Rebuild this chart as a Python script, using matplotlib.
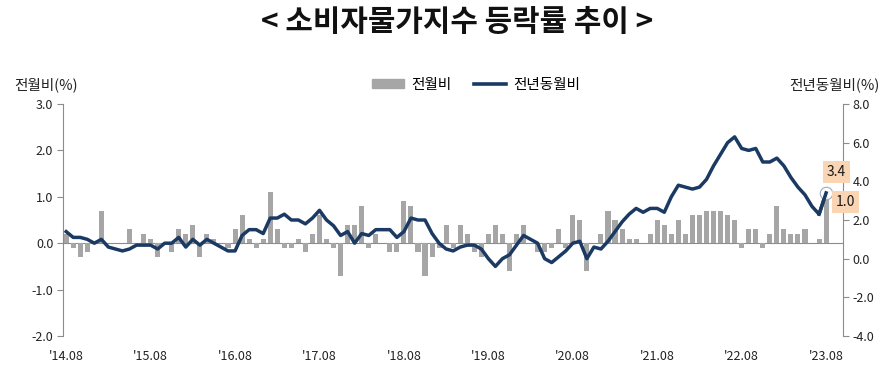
import numpy as np
import matplotlib
matplotlib.use("Agg")
import matplotlib.pyplot as plt
from matplotlib.patches import Patch
from matplotlib.lines import Line2D

plt.rcParams['font.family'] = ['Noto Sans CJK KR', 'DejaVu Sans']

# ---- data ----
tick_labels = ["'14.08", "'15.08", "'16.08", "'17.08", "'18.08",
               "'19.08", "'20.08", "'21.08", "'22.08", "'23.08"]

mom = [  # 전월비 (%), 2014.08 ~ 2023.08
    0.2, -0.1, -0.3, -0.2, 0.0,
    0.7, 0.0, 0.0, 0.0, 0.3, 0.0, 0.2, 0.1, -0.3, 0.0, -0.2, 0.3,
    0.2, 0.4, -0.3, 0.2, 0.1, 0.0, -0.1, 0.3, 0.6, 0.1, -0.1, 0.1,
    1.1, 0.3, -0.1, -0.1, 0.1, -0.2, 0.2, 0.6, 0.1, -0.1, -0.7, 0.4,
    0.4, 0.8, -0.1, 0.2, 0.0, -0.2, -0.2, 0.9, 0.8, -0.2, -0.7, -0.3,
    -0.1, 0.4, -0.1, 0.4, 0.2, -0.2, -0.3, 0.2, 0.4, 0.2, -0.6, 0.2,
    0.4, 0.0, -0.2, -0.2, -0.1, 0.3, -0.1, 0.6, 0.5, -0.6, 0.0, 0.2,
    0.7, 0.5, 0.3, 0.1, 0.1, 0.0, 0.2, 0.5, 0.4, 0.2, 0.5, 0.2,
    0.6, 0.6, 0.7, 0.7, 0.7, 0.6, 0.5, -0.1, 0.3, 0.3, -0.1, 0.2,
    0.8, 0.3, 0.2, 0.2, 0.3, 0.0, 0.1, 1.0,
]

yoy = [  # 전년동월비 (%), 2014.08 ~ 2023.08
    1.4, 1.1, 1.1, 1.0, 0.8,
    1.0, 0.6, 0.5, 0.4, 0.5, 0.7, 0.7, 0.7, 0.5, 0.8, 0.8, 1.1,
    0.6, 1.0, 0.7, 1.0, 0.8, 0.6, 0.4, 0.4, 1.2, 1.5, 1.5, 1.3,
    2.1, 2.1, 2.3, 2.0, 2.0, 1.8, 2.1, 2.5, 2.0, 1.7, 1.2, 1.4,
    0.8, 1.3, 1.2, 1.5, 1.5, 1.5, 1.1, 1.4, 2.1, 2.0, 2.0, 1.3,
    0.8, 0.5, 0.4, 0.6, 0.7, 0.7, 0.5, 0.0, -0.4, 0.0, 0.2, 0.7,
    1.2, 1.0, 0.8, 0.0, -0.2, 0.1, 0.4, 0.8, 0.9, 0.0, 0.6, 0.5,
    0.9, 1.4, 1.9, 2.3, 2.6, 2.4, 2.6, 2.6, 2.4, 3.2, 3.8, 3.7,
    3.6, 3.7, 4.1, 4.8, 5.4, 6.0, 6.3, 5.7, 5.6, 5.7, 5.0, 5.0,
    5.2, 4.8, 4.2, 3.7, 3.3, 2.7, 2.3, 3.4,
]

x = np.arange(len(mom))

BAR = '#A6A6A6'
LINE = '#1B3A63'
AXC = '#8C8C8C'

fig = plt.figure(figsize=(8.89, 3.82), dpi=100)
ax = fig.add_axes([63/889, 1-336/382, (843-63)/889, (336-104)/382])
ax2 = ax.twinx()

ax.bar(x, mom, width=0.72, color=BAR, zorder=2)
ax.axhline(0, color=AXC, lw=0.8, zorder=1)
ax.set_ylim(-2, 3)
ax.set_yticks(np.arange(-2, 3.01, 1))
ax.set_yticklabels([f"{v:.1f}" for v in np.arange(-2, 3.01, 1)])
ax.set_xlim(-0.45, 110.4)
ax.set_xticks(x[::12])
ax.set_xticklabels(tick_labels)

ax2.plot(x, yoy, color=LINE, lw=2.5, solid_joinstyle='round', zorder=3)
ax2.set_ylim(-4, 8)
ax2.set_yticks(np.arange(-4, 8.01, 2))
ax2.set_yticklabels([f"{v:.1f}" for v in np.arange(-4, 8.01, 2)])

for a in (ax, ax2):
    for s in ('top', 'bottom'):
        a.spines[s].set_visible(False)
    a.spines['left'].set_color(AXC)
    a.spines['right'].set_color(AXC)
    a.spines['left'].set_linewidth(0.8)
    a.spines['right'].set_linewidth(0.8)
    a.tick_params(axis='y', colors='#222222', labelsize=9, length=4,
                  width=0.8, color=AXC, pad=3)
ax.tick_params(axis='x', length=0, labelsize=9, pad=10, colors='#222222')
ax2.spines['left'].set_visible(False)
ax.spines['right'].set_visible(False)

# last point marker and labels
ax2.plot([x[-1]], [yoy[-1]], marker='o', ms=9, mfc='white', mec='#8FA3BF',
         mew=0.8, zorder=4, alpha=0.9)
ax2.plot(x[-2:], yoy[-2:], color=LINE, lw=2.5, zorder=5)
box = dict(boxstyle='square,pad=0.3', fc='#F9D5B4', ec='none')
ax2.annotate(f"{yoy[-1]:.1f}", (x[-1], yoy[-1]), xytext=(7.5, 15),
             textcoords='offset points', ha='center', va='center',
             fontsize=10, color='#1A1A1A', bbox=box, zorder=6,
             annotation_clip=False)
ax2.annotate(f"{mom[-1]:.1f}", (x[-1], yoy[-1]), xytext=(14, -6.5),
             textcoords='offset points', ha='center', va='center',
             fontsize=10, color='#1A1A1A', bbox=box, zorder=6,
             annotation_clip=False)

# texts
fig.text(457/889, 1-22/382, "< 소비자물가지수 등락률 추이 >", ha='center',
         va='center', fontsize=21.5, fontweight='bold', color='#111111')
fig.text(14/889, 1-85/382, "전월비(%)", ha='left', va='center',
         fontsize=10.5, color='#222222')
fig.text(880/889, 1-85/382, "전년동월비(%)", ha='right', va='center',
         fontsize=10.5, color='#222222')

handles = [Patch(color=BAR), Line2D([], [], color=LINE, lw=2.6)]
fig.legend(handles, ["전월비", "전년동월비"], loc='center',
           bbox_to_anchor=(476/889, 1-85/382), ncol=2, frameon=False,
           fontsize=10.5, handlelength=2.2, handleheight=0.6,
           columnspacing=1.5, handletextpad=0.5)

fig.savefig("out.png", dpi=100)
